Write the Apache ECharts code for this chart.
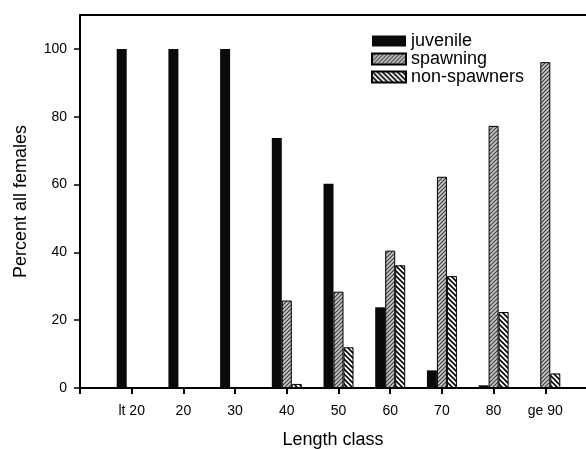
<!DOCTYPE html>
<html>
<head>
<meta charset="utf-8">
<script src="https://cdn.jsdelivr.net/npm/echarts@6/dist/echarts.min.js"></script>
<style>
  html, body { margin: 0; padding: 0; background: #fff; }
  #main { width: 586px; height: 449px; }
</style>
</head>
<body>
<div id="main"></div>
<script>
// length classes sit at positions 1..9 on the x axis
var lengthClasses = ['lt 20', '20', '30', '40', '50', '60', '70', '80', 'ge 90'];
var juvenile =    [100, 100, 100, 73.7, 60.2, 23.8, 5.2, 0.8, 0];
var spawning =    [0, 0, 0, 25.8, 28.4, 40.5, 62.3, 77.3, 96.1];
var nonSpawners = [0, 0, 0, 1.2, 12.0, 36.2, 33.0, 22.4, 4.3];
var xTicks = [0, 1, 2, 3, 4, 5, 6, 7, 8, 9];
var yTicks = [0, 20, 40, 60, 80, 100];

var font = 'Liberation Sans, Arial, sans-serif';

function toPairs(vals) {
  return vals.map(function (v, i) { return [i + 1, v]; });
}

// hatch tiles for the patterned bars
function hatch(bg, fg, lw, size, dir) {
  var c = document.createElement('canvas');
  c.width = size; c.height = size;
  var ctx = c.getContext('2d');
  ctx.fillStyle = bg;
  ctx.fillRect(0, 0, size, size);
  ctx.strokeStyle = fg;
  ctx.lineWidth = lw;
  ctx.beginPath();
  if (dir == '/') {
    ctx.moveTo(0, size); ctx.lineTo(size, 0);
    ctx.moveTo(-1, 1); ctx.lineTo(1, -1);
    ctx.moveTo(size - 1, size + 1); ctx.lineTo(size + 1, size - 1);
  } else {
    ctx.moveTo(0, 0); ctx.lineTo(size, size);
    ctx.moveTo(-1, size - 1); ctx.lineTo(1, size + 1);
    ctx.moveTo(size - 1, -1); ctx.lineTo(size + 1, 1);
  }
  ctx.stroke();
  return { image: c, repeat: 'repeat' };
}

var spawnFill = hatch('#c8c8c8', '#3a3a3a', 1.1, 4, '/');
var nonFill = hatch('#ffffff', '#000000', 1.6, 5, '\\');

var chart = echarts.init(document.getElementById('main'), null, { renderer: 'canvas' });
chart.setOption({
  animation: false,
  backgroundColor: '#fff',
  legend: {
    orient: 'vertical',
    left: 366,
    top: 27,
    itemWidth: 34,
    itemHeight: 11,
    itemGap: 0,
    icon: 'rect',
    textStyle: { fontFamily: font, fontSize: 18, color: '#000' },
    data: ['juvenile', 'spawning', 'non-spawners']
  },
  grid: { left: 80, top: 15, right: 0, bottom: 61, outerBoundsMode: 'none', containLabel: false },
  xAxis: [
    {
      type: 'value',
      min: 0,
      max: 9.787,
      name: 'Length class',
      nameLocation: 'middle',
      nameGap: 43,
      nameTextStyle: { fontFamily: font, fontSize: 18, color: '#000' },
      axisLine: { lineStyle: { color: '#000', width: 2 } },
      axisTick: { show: true, length: 6, customValues: xTicks, lineStyle: { color: '#000', width: 2 } },
      axisLabel: {
        margin: 16, fontFamily: font, fontSize: 14, color: '#000',
        customValues: xTicks.slice(1),
        formatter: function (v) { return lengthClasses[Math.round(v) - 1] || ''; }
      },
      splitLine: { show: false }
    },
    {
      type: 'value',
      min: 0,
      max: 9.787,
      position: 'top',
      axisLine: { show: true, lineStyle: { color: '#000', width: 2 } },
      axisTick: { show: false },
      axisLabel: { show: false },
      splitLine: { show: false }
    }
  ],
  yAxis: {
    type: 'value',
    min: 0,
    max: 110,
    name: 'Percent all females',
    nameLocation: 'middle',
    nameGap: 50,
    nameTextStyle: { fontFamily: font, fontSize: 18, color: '#000' },
    axisLine: { show: true, lineStyle: { color: '#000', width: 2 } },
    axisTick: { show: true, length: 6, customValues: yTicks, lineStyle: { color: '#000', width: 1.5 } },
    axisLabel: { margin: 13, customValues: yTicks, fontFamily: font, fontSize: 14, color: '#000' },
    splitLine: { show: false }
  },
  series: [
    {
      name: 'juvenile',
      type: 'bar',
      barWidth: 10,
      barGap: '0%',
      itemStyle: { color: '#0a0a0a' },
      data: toPairs(juvenile)
    },
    {
      name: 'spawning',
      type: 'bar',
      barWidth: 10,
      barGap: '0%',
      itemStyle: { color: spawnFill, borderColor: '#000', borderWidth: 1 },
      data: toPairs(spawning)
    },
    {
      name: 'non-spawners',
      type: 'bar',
      barWidth: 10,
      barGap: '0%',
      itemStyle: { color: nonFill, borderColor: '#000', borderWidth: 1 },
      data: toPairs(nonSpawners)
    }
  ]
});
</script>
</body>
</html>
